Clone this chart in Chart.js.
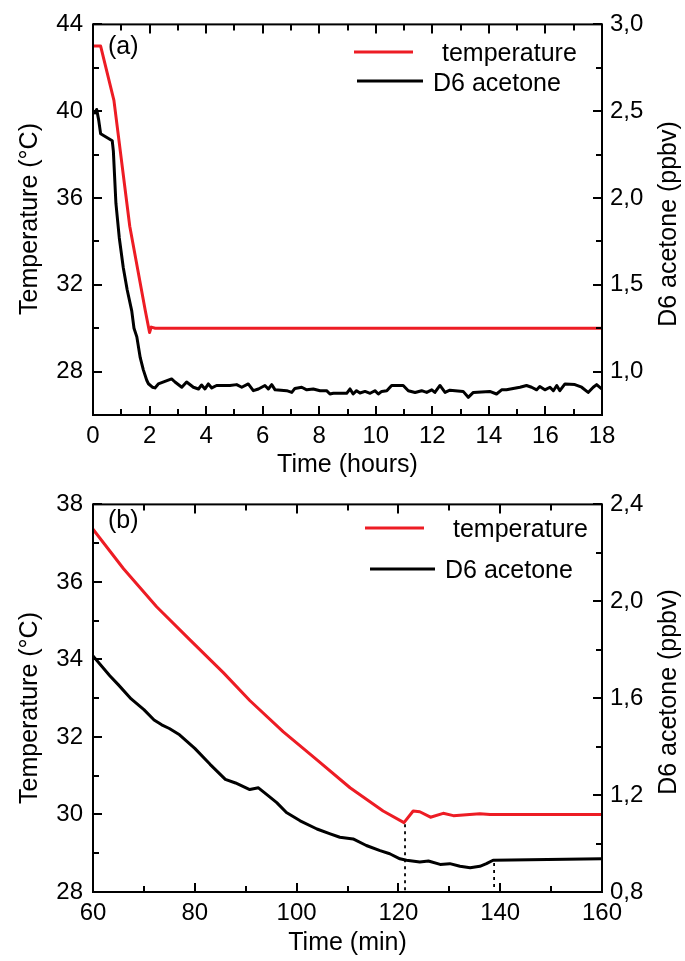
<!DOCTYPE html>
<html><head><meta charset="utf-8">
<script src="https://cdn.jsdelivr.net/npm/chart.js@4/dist/chart.umd.min.js"></script>
<style>html,body{margin:0;padding:0;background:#fff;}canvas{display:block;}</style>
</head><body>
<canvas id="chartA" width="685" height="480"></canvas>
<canvas id="chartB" width="685" height="481"></canvas>
<script>
// ---------- Panel (a): time in hours ----------
const hoursTemp = [0, 0.27, 0.74, 1.3, 1.85, 2.0, 2.06, 2.2, 6, 10, 14, 18];
const tempA     = [43, 43, 40.5, 34.7, 30.8, 29.8, 30.05, 30, 30, 30, 30, 30];

const hoursAcetone = [0.07,0.13,0.2,0.27,0.68,0.72,0.81,0.93,1.07,1.21,1.37,1.45,1.55,1.67,1.78,1.9,1.96,2.1,2.19,2.31,2.78,2.9,3.14,3.31,3.55,3.73,3.84,3.96,4.08,4.2,4.37,4.84,5.08,5.26,5.49,5.67,5.85,6.08,6.2,6.32,6.44,6.85,7.03,7.14,7.38,7.56,7.79,8.03,8.26,8.38,8.5,8.97,9.09,9.2,9.32,9.44,9.62,9.8,9.97,10.09,10.21,10.39,10.56,10.97,11.15,11.39,11.62,11.8,11.98,12.09,12.27,12.45,12.62,13.09,13.27,13.45,14.03,14.27,14.45,14.62,15.1,15.33,15.51,15.69,15.8,15.98,16.16,16.28,16.4,16.51,16.69,17.04,17.28,17.51,17.69,17.81,17.99];
const acetoneA     = [2.49,2.51,2.45,2.37,2.33,2.27,1.97,1.77,1.60,1.47,1.35,1.25,1.20,1.08,1.01,0.95,0.93,0.91,0.906,0.929,0.958,0.94,0.91,0.94,0.91,0.90,0.923,0.90,0.929,0.906,0.92,0.92,0.925,0.91,0.929,0.89,0.90,0.92,0.90,0.925,0.895,0.89,0.88,0.903,0.91,0.895,0.90,0.89,0.89,0.871,0.875,0.875,0.90,0.871,0.89,0.877,0.886,0.875,0.89,0.871,0.886,0.89,0.92,0.92,0.89,0.88,0.89,0.88,0.895,0.88,0.92,0.88,0.893,0.886,0.852,0.88,0.886,0.871,0.895,0.895,0.91,0.92,0.91,0.895,0.914,0.895,0.91,0.89,0.92,0.89,0.929,0.925,0.91,0.88,0.91,0.925,0.90];

const xTicksA  = [0,2,4,6,8,10,12,14,16,18];
const xMinorA  = [1,3,5,7,9,11,13,15,17];
const yTicksA  = [28,32,36,40,44];
const yMinorA  = [26,30,34,38,42];
const y2TicksA = [1.0,1.5,2.0,2.5,3.0];
const y2MinorA = [0.75,1.25,1.75,2.25,2.75];

// ---------- Panel (b): time in minutes ----------
const minTemp = [60,66,72.5,79,85.6,90.8,97.4,104,110.5,117,121.1,122.9,124.2,126.3,128.8,130.8,134,136,138,160];
const tempB   = [37.36,36.34,35.36,34.51,33.66,32.94,32.13,31.41,30.69,30.09,29.79,30.09,30.07,29.93,30.03,29.97,30.0,30.02,30.0,30.0];

const minAcetone = [60,63.3,65,67.5,70,72,73.5,75,77,80,83,86,88,90.8,92.5,94.1,96.1,98,100.7,104,106.6,108.5,111.1,113.7,116.4,118.3,120.3,121.6,124.2,125.9,128.2,130.1,132.1,134.1,136,137.3,138.6,160];
const acetoneB   = [1.774,1.693,1.655,1.597,1.553,1.51,1.49,1.475,1.449,1.393,1.327,1.265,1.25,1.223,1.23,1.203,1.169,1.128,1.094,1.06,1.04,1.026,1.019,0.992,0.971,0.958,0.937,0.931,0.924,0.928,0.914,0.917,0.906,0.90,0.906,0.917,0.931,0.937];

// vertical dotted markers (time, temperature from, temperature to)
const markerTimes = [121.3, 138.8];
const markerTop   = [29.75, 28.75];
const markerBot   = [28, 28];

const xTicksB  = [60,80,100,120,140,160];
const xMinorB  = [70,90,110,130,150];
const yTicksB  = [28,30,32,34,36,38];
const yMinorB  = [29,31,33,35,37];
const y2TicksB = [0.8,1.2,1.6,2.0,2.4];
const y2MinorB = [1.0,1.4,1.8,2.2];

// ---------- helpers ----------
const FONT = '"Liberation Sans", Arial, Helvetica, sans-serif';
const RED = '#ed1c24';
const comma = v => Number(v).toFixed(1).replace('.', ',');
const zip = (xs, ys) => xs.map((x, i) => ({x: x, y: ys[i]}));

const decorPlugin = {
  id: 'decor',
  afterDraw(chart, args, o) {
    const {ctx, chartArea: a, scales} = chart;
    ctx.save();
    ctx.strokeStyle = '#000';
    ctx.lineWidth = 2;
    ctx.strokeRect(a.left, a.top, a.right - a.left, a.bottom - a.top);
    ctx.beginPath();
    const xt = (vals, len) => vals.forEach(v => {
      const p = Math.round(scales.x.getPixelForValue(v));
      ctx.moveTo(p, a.bottom); ctx.lineTo(p, a.bottom - len);
      ctx.moveTo(p, a.top); ctx.lineTo(p, a.top + len);
    });
    const yt = (vals, len) => vals.forEach(v => {
      const p = Math.round(scales.y.getPixelForValue(v));
      ctx.moveTo(a.left, p); ctx.lineTo(a.left + len, p);
    });
    const y2t = (vals, len) => vals.forEach(v => {
      const p = Math.round(scales.y2.getPixelForValue(v));
      ctx.moveTo(a.right, p); ctx.lineTo(a.right - len, p);
    });
    xt(o.xMajor, 9); xt(o.xMinor, 6);
    yt(o.yMajor, 9); yt(o.yMinor, 6);
    y2t(o.y2Major, 9); y2t(o.y2Minor, 6);
    ctx.stroke();

    ctx.fillStyle = '#000';
    ctx.font = '25px ' + FONT;
    ctx.textAlign = 'center';
    ctx.textBaseline = 'alphabetic';
    o.yTitles.forEach(t => {
      ctx.save();
      ctx.translate(t.x, t.y);
      ctx.rotate(-Math.PI / 2);
      ctx.fillText(t.text, 0, 0);
      ctx.restore();
    });

    ctx.textAlign = 'left';
    ctx.fillText(o.label.text, o.label.x, o.label.y);

    o.legend.forEach(l => {
      ctx.strokeStyle = l.color;
      ctx.lineWidth = 3;
      ctx.beginPath();
      ctx.moveTo(l.x1, l.y); ctx.lineTo(l.x2, l.y);
      ctx.stroke();
      ctx.fillStyle = '#000';
      ctx.fillText(l.text, l.tx, l.ty);
    });
    ctx.restore();
  }
};

function axisTicks(list) {
  return s => { s.ticks = list.map(v => ({value: v})); };
}

function makeChart(id, cfg) {
  const tickFont = {family: FONT, size: 24};
  return new Chart(document.getElementById(id), {
    type: 'line',
    data: {datasets: cfg.datasets},
    options: {
      responsive: false,
      animation: false,
      events: [],
      layout: {padding: {top: cfg.padTop, left: 0, right: 0, bottom: 0}},
      elements: {point: {radius: 0}, line: {tension: 0, borderJoinStyle: 'round', borderCapStyle: 'round'}},
      plugins: {
        legend: {display: false},
        tooltip: {enabled: false},
        decor: cfg.decor
      },
      scales: {
        x: {
          type: 'linear', position: 'bottom', min: cfg.xMin, max: cfg.xMax,
          afterBuildTicks: axisTicks(cfg.xTicks),
          afterFit: s => { s.height = cfg.xHeight; },
          grid: {display: false, drawTicks: false},
          border: {display: false},
          ticks: {font: tickFont, color: '#000', padding: 7, maxRotation: 0, autoSkip: false,
                  callback: v => String(v)},
          title: {display: true, text: cfg.xTitle, color: '#000',
                  font: {family: FONT, size: 25}, padding: {top: 0, bottom: cfg.xTitlePad}}
        },
        y: {
          type: 'linear', position: 'left', min: cfg.yMin, max: cfg.yMax,
          afterBuildTicks: axisTicks(cfg.yTicks),
          afterFit: s => { s.width = 93; },
          grid: {display: false, drawTicks: false},
          border: {display: false},
          ticks: {font: tickFont, color: '#000', padding: 10, autoSkip: false,
                  callback: v => String(v)}
        },
        y2: {
          type: 'linear', position: 'right', min: cfg.y2Min, max: cfg.y2Max,
          afterBuildTicks: axisTicks(cfg.y2Ticks),
          afterFit: s => { s.width = 83; },
          grid: {display: false, drawTicks: false},
          border: {display: false},
          ticks: {font: tickFont, color: '#000', padding: 8, autoSkip: false,
                  callback: v => comma(v)}
        }
      }
    },
    plugins: [decorPlugin]
  });
}

// ---------- Chart (a) ----------
makeChart('chartA', {
  padTop: 24, xHeight: 65, xTitlePad: 0,
  xMin: 0, xMax: 18, yMin: 26, yMax: 44, y2Min: 0.75, y2Max: 3.0,
  xTicks: xTicksA, yTicks: yTicksA, y2Ticks: y2TicksA,
  xTitle: 'Time (hours)',
  datasets: [
    {label: 'D6 acetone', data: zip(hoursAcetone, acetoneA), yAxisID: 'y2',
     borderColor: '#000', borderWidth: 3, fill: false},
    {label: 'temperature', data: zip(hoursTemp, tempA), yAxisID: 'y',
     borderColor: RED, borderWidth: 3, fill: false}
  ],
  decor: {
    xMajor: xTicksA, xMinor: xMinorA, yMajor: yTicksA, yMinor: yMinorA,
    y2Major: y2TicksA, y2Minor: y2MinorA,
    yTitles: [{text: 'Temperature (°C)', x: 37, y: 219},
              {text: 'D6 acetone (ppbv)', x: 676, y: 224}],
    label: {text: '(a)', x: 108, y: 54},
    legend: [
      {color: RED, x1: 354, x2: 413, y: 52, text: 'temperature', tx: 442, ty: 61},
      {color: '#000', x1: 357, x2: 423, y: 81, text: 'D6 acetone', tx: 433, ty: 91}
    ]
  }
});

// ---------- Chart (b) ----------
const markerSets = markerTimes.map((t, i) => ({
  label: 'marker' + i,
  data: [{x: t, y: markerTop[i]}, {x: t, y: markerBot[i]}],
  yAxisID: 'y', borderColor: '#000', borderWidth: 1.8, borderDash: [3, 4],
  borderCapStyle: 'butt', fill: false
}));

makeChart('chartB', {
  padTop: 20, xHeight: 69, xTitlePad: 3,
  xMin: 60, xMax: 160, yMin: 28, yMax: 38, y2Min: 0.8, y2Max: 2.4,
  xTicks: xTicksB, yTicks: yTicksB, y2Ticks: y2TicksB,
  xTitle: 'Time (min)',
  datasets: [
    {label: 'D6 acetone', data: zip(minAcetone, acetoneB), yAxisID: 'y2',
     borderColor: '#000', borderWidth: 3, fill: false},
    {label: 'temperature', data: zip(minTemp, tempB), yAxisID: 'y',
     borderColor: RED, borderWidth: 3, fill: false}
  ].concat(markerSets),
  decor: {
    xMajor: xTicksB, xMinor: xMinorB, yMajor: yTicksB, yMinor: yMinorB,
    y2Major: y2TicksB, y2Minor: y2MinorB,
    yTitles: [{text: 'Temperature (°C)', x: 37, y: 228},
              {text: 'D6 acetone (ppbv)', x: 676, y: 212}],
    label: {text: '(b)', x: 108, y: 48},
    legend: [
      {color: RED, x1: 365, x2: 424, y: 48, text: 'temperature', tx: 453, ty: 57},
      {color: '#000', x1: 370, x2: 435, y: 89, text: 'D6 acetone', tx: 445, ty: 98}
    ]
  }
});
</script>
</body></html>
